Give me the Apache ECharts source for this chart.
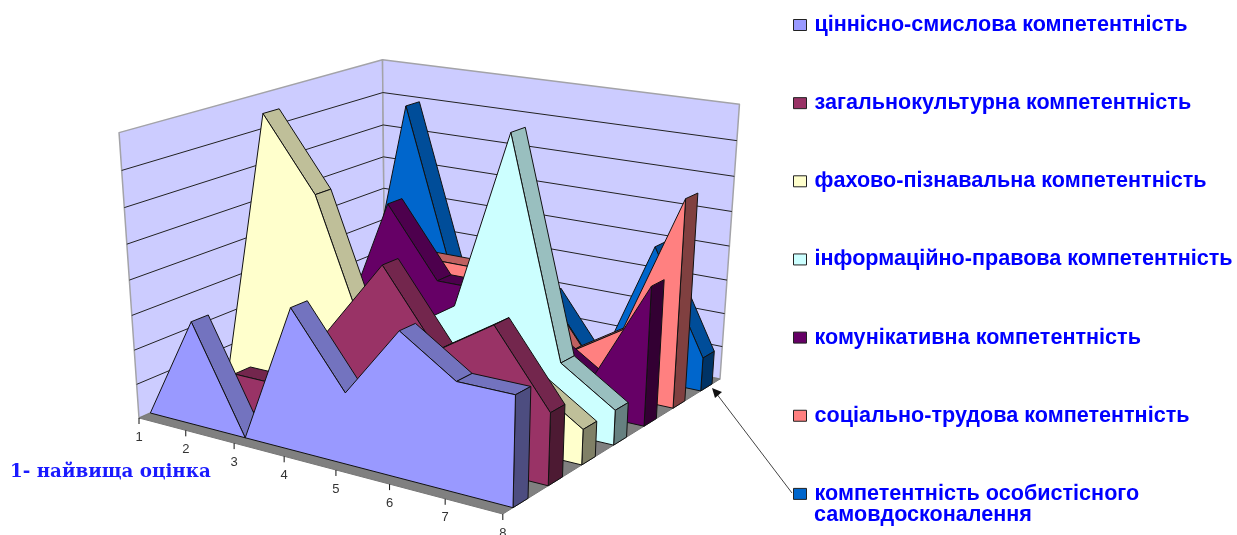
<!DOCTYPE html>
<html>
<head>
<meta charset="utf-8">
<style>html,body{margin:0;padding:0;background:#fff}#chart{width:1237px;height:535px}</style>
<script src="https://cdn.jsdelivr.net/npm/echarts@6/dist/echarts.min.js"></script>
</head>
<body>
<div id="chart"></div>
<script>
// Оцінки (1 – найвища) by competence, front row first
const grades = ['1', '2', '3', '4', '5', '6', '7', '8'];
const scaleTicks = [0, 1, 2, 3, 4, 5, 6, 7, 8];
const names = [
  'ціннісно-смислова компетентність',
  'загальнокультурна компетентність',
  'фахово-пізнавальна компетентність',
  'інформаційно-правова компетентність',
  'комунікативна компетентність',
  'соціально-трудова компетентність',
  'компетентність особистісного\nсамовдосконалення'
];
const colors = ['#9999FF', '#993366', '#FFFFCC', '#CCFFFF', '#660066', '#FF8080', '#0066CC'];
const valuesA = [0, 3, 0, 4, 2, 4, 3, 3];
const valuesB = [0, 1, 1, 3, 5, 3, 4, 2];
const valuesC = [0, 8, 6, 2, 2, 2, 2, 1];
const valuesD = [0, 1, 1, 2, 3, 8, 2, 1];
const valuesE = [0, 1, 5, 3, 3, 2, 1, 4];
const valuesF = [0, 1, 3, 3, 3, 1, 2, 6];
const valuesG = [0, 7, 2, 2, 2, 0, 4, 1];
const rows = [valuesA, valuesB, valuesC, valuesD, valuesE, valuesF, valuesG];

// The flat value plane (hidden axes) that the camera below tilts into perspective
const PLANE = { left: 0, top: 0, width: 700, height: 400 };
// Homogeneous camera: screen = (x, y, w) for plane position u, depth d, height h
const CAM = {
  x: [306, 307.8, -27.7, 139],
  y: [36.9, -58.6, -294, 418],
  w: [-0.115, 0.1606, -0.065, 1]
};
const ROW_FRONT = 0.28, ROW_BACK = 0.70;

function project(u, d, h) {
  const dot = m => m[0] * u + m[1] * d + m[2] * h + m[3];
  const w = dot(CAM.w);
  return [dot(CAM.x) / w, dot(CAM.y) / w];
}
// Value-axis position -> projected point at the given depth
function place(api, cat, val, d) {
  const c = api.coord([cat, val]);
  return project((c[0] - PLANE.left) / PLANE.width, d, (PLANE.top + PLANE.height - c[1]) / PLANE.height);
}
function shade(hex, k) {
  const n = parseInt(hex.slice(1), 16);
  const ch = s => Math.round(((n >> s) & 255) * k);
  return 'rgb(' + ch(16) + ',' + ch(8) + ',' + ch(0) + ')';
}
function signedArea(p) {
  let s = 0;
  p.forEach((a, i) => { const b = p[(i + 1) % p.length]; s += a[0] * b[1] - b[0] * a[1]; });
  return s;
}
function face(points, fill, stroke, width) {
  return { type: 'polygon', shape: { points }, silent: true,
    style: { fill, stroke: stroke || '#111', lineWidth: width === undefined ? 1 : width, lineJoin: 'round' } };
}

// Walls, floor, gridlines, tick marks and tick labels
function renderBox(params, api) {
  const last = grades.length - 1, top = scaleTicks[scaleTicks.length - 1];
  const kids = [];
  const wall = '#CCCCFF', edge = '#A3A3A8';
  kids.push(face([place(api, 0, 0, 0), place(api, 0, 0, 1), place(api, 0, top, 1), place(api, 0, top, 0)], wall, edge, 1.5));
  kids.push(face([place(api, 0, 0, 1), place(api, last, 0, 1), place(api, last, top, 1), place(api, 0, top, 1)], wall, edge, 1.5));
  kids.push(face([place(api, 0, 0, 0), place(api, last, 0, 0), place(api, last, 0, 1), place(api, 0, 0, 1)], '#808080', '#777', 1));
  scaleTicks.slice(1, -1).forEach(t => {
    const a = place(api, 0, t, 0), b = place(api, 0, t, 1), c = place(api, last, t, 1);
    kids.push({ type: 'polyline', shape: { points: [a, b, c] }, silent: true, style: { fill: null, stroke: '#222', lineWidth: 1 } });
  });
  grades.forEach((g, i) => {
    const p = place(api, i, 0, 0);
    kids.push({ type: 'line', shape: { x1: p[0], y1: p[1], x2: p[0], y2: p[1] + 6 }, silent: true, style: { stroke: '#111', lineWidth: 1 } });
    kids.push({ type: 'text', silent: true, style: { text: g, x: p[0], y: p[1] + 19, align: 'center', verticalAlign: 'middle',
      font: '13px "Liberation Sans"', fill: '#333' } });
  });
  return { type: 'group', children: kids };
}

// One segment of a row per data item; the last item closes the row with its end cap and front face
function renderRow(rowIndex) {
  const vals = rows[rowIndex], color = colors[rowIndex];
  const d0 = (rowIndex + ROW_FRONT) / rows.length, d1 = (rowIndex + ROW_BACK) / rows.length;
  return function (params, api) {
    const i = api.value(0), v = api.value(1), kids = [];
    if (i < vals.length - 1) {
      const q = [place(api, i, v, d0), place(api, i + 1, vals[i + 1], d0), place(api, i + 1, vals[i + 1], d1), place(api, i, v, d1)];
      if (signedArea(q) < 0) kids.push(face(q, shade(color, 0.75)));
    } else {
      kids.push(face([place(api, i, 0, d0), place(api, i, 0, d1), place(api, i, v, d1), place(api, i, v, d0)], shade(color, 0.5)));
      const front = [];
      for (let k = 0; k < vals.length; k++) front.push(place(api, k, vals[k], d0));
      front.push(place(api, i, 0, d0), place(api, 0, 0, d0));
      kids.push(face(front, color));
    }
    return { type: 'group', children: kids };
  };
}

const series = [{
  type: 'custom', name: 'box', z: 1, silent: true, clip: false,
  renderItem: renderBox, data: [[0, 0]], encode: { x: 0, y: 1 }
}].concat(rows.map((vals, r) => ({
  type: 'custom', name: names[r], z: 20 - r, silent: true, clip: false,
  itemStyle: { color: colors[r] },
  renderItem: renderRow(r),
  data: vals.map((v, i) => [i, v]), encode: { x: 0, y: 1 }
})));

const chart = echarts.init(document.getElementById('chart'), null, { renderer: 'canvas' });
chart.setOption({
  animation: false,
  backgroundColor: '#fff',
  grid: { left: PLANE.left, top: PLANE.top, width: PLANE.width, height: PLANE.height, show: false },
  xAxis: { type: 'category', data: grades, boundaryGap: false, show: false },
  yAxis: { type: 'value', min: 0, max: 8, interval: 1, show: false },
  legend: {
    orient: 'vertical', left: 793, top: 14, padding: 0, itemWidth: 13, itemHeight: 11, itemGap: 56.15,
    icon: 'rect', selectedMode: false,
    data: names,
    formatter: n => n.split('\n')[0],
    itemStyle: { borderColor: '#222', borderWidth: 1 },
    textStyle: { color: '#0000FF', fontFamily: 'Liberation Sans', fontWeight: 'bold', fontSize: 21.6, lineHeight: 22, padding: [0, 0, 0, 3] }
  },
  graphic: [
    { type: 'text', left: 814, top: 504, silent: true,
      style: { text: names[6].split('\n')[1], font: 'bold 21.6px "Liberation Sans"', fill: '#0000FF' } },
    { type: 'text', left: 10, top: 463, silent: true,
      style: { text: '1- найвища оцінка', font: 'bold 18.3px "DejaVu Serif"', fill: '#1A1AFF' } },
    { type: 'line', silent: true, shape: { x1: 792, y1: 493, x2: 716, y2: 393 }, style: { stroke: '#444', lineWidth: 1 } },
    { type: 'polygon', silent: true, shape: { points: [[712, 388], [722, 392], [715, 398]] }, style: { fill: '#111' } }
  ],
  series
});
</script>
</body>
</html>
